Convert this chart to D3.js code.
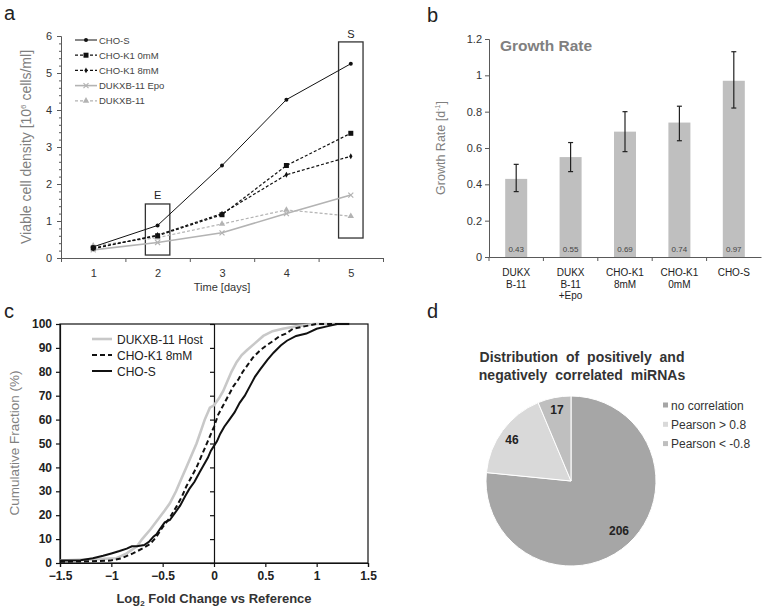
<!DOCTYPE html>
<html><head><meta charset="utf-8">
<script src="https://cdn.jsdelivr.net/npm/d3@7"></script>
<style>body{margin:0;background:#fff}svg{display:block;font-family:"Liberation Sans",Arial,sans-serif}</style>
</head><body><svg id="c" width="762" height="607"></svg>
<script>
// ---------- Panel a data ----------
const days = [1, 2, 3, 4, 5];
const choS = [0.3, 0.88, 2.5, 4.28, 5.25];
const choK1_0 = [0.27, 0.6, 1.17, 2.5, 3.37];
const choK1_8 = [0.25, 0.62, 1.2, 2.25, 2.75];
const dukEpo = [0.22, 0.42, 0.68, 1.2, 1.7];
const duk = [0.33, 0.55, 0.92, 1.3, 1.13];
const aSeriesNames = ["CHO-S", "CHO-K1 0mM", "CHO-K1 8mM", "DUKXB-11 Epo", "DUKXB-11"];
const aYTicks = [0, 1, 2, 3, 4, 5, 6];

// ---------- Panel b data ----------
const bCats = [["DUKX","B-11"], ["DUKX","B-11","+Epo"], ["CHO-K1","8mM"], ["CHO-K1","0mM"], ["CHO-S"]];
const bVals = [0.43, 0.55, 0.69, 0.74, 0.97];
const bLow = [0.36, 0.47, 0.58, 0.64, 0.82];
const bHigh = [0.51, 0.63, 0.80, 0.83, 1.13];
const bYTicks = [0, 0.2, 0.4, 0.6, 0.8, 1, 1.2];

// ---------- Panel c data (x: log2 FC, y: cumulative %) ----------
const cHostX = [-1.5,-1.2,-0.95,-0.85,-0.75,-0.7,-0.62,-0.55,-0.48,-0.43,-0.37,-0.32,-0.27,-0.22,-0.17,-0.13,-0.09,-0.06,-0.04,0,0.05,0.09,0.12,0.17,0.22,0.27,0.32,0.4,0.48,0.57,0.67,0.8,0.97,1.1,1.32];
const cHostY = [1,1.5,2,4,7,10,14,18,22,25,30,35,40,45,50,55,60,63,65,66,69,72,75,80,84,87,89,92,95,97,98,99,100,100,100];
const cK1X = [-1.5,-1.2,-1.01,-0.9,-0.79,-0.7,-0.62,-0.56,-0.5,-0.43,-0.36,-0.31,-0.27,-0.22,-0.17,-0.13,-0.09,-0.06,-0.04,0,0.04,0.09,0.14,0.19,0.24,0.28,0.33,0.38,0.45,0.51,0.58,0.64,0.7,0.77,0.88,1.0,1.2];
const cK1Y = [0.5,0.7,1,2,4,6,8,11,15,19,24,28,32,36,40,44,48,51,53,57,62,66,70,74,77,80,83,86,89,91,93,95,96,98,99,100,100];
const cSX = [-1.5,-1.3,-1.18,-1.08,-1.0,-0.92,-0.85,-0.8,-0.75,-0.68,-0.63,-0.59,-0.56,-0.53,-0.48,-0.43,-0.38,-0.33,-0.28,-0.24,-0.19,-0.14,-0.1,-0.06,-0.03,0,0.03,0.06,0.1,0.15,0.2,0.25,0.3,0.35,0.4,0.45,0.52,0.58,0.65,0.71,0.8,0.9,1.0,1.1,1.2,1.32];
const cSY = [1,1.2,2,3,4,5,6,7,7,7.5,9,11,12,14,17,18,21,24,28,31,34,38,41,44,47,49,51,54,57,60,63,67,70,74,78,81,85,88,91,93,95,96,98,99,100,100];
const cNames = ["DUKXB-11 Host", "CHO-K1 8mM", "CHO-S"];
const cXTicks = [-1.5, -1, -0.5, 0, 0.5, 1, 1.5];
const cYTicks = [0,10,20,30,40,50,60,70,80,90,100];

// ---------- Panel d data ----------
const dLabels = ["no correlation", "Pearson > 0.8", "Pearson < -0.8"];
const dVals = [206, 46, 17];
const dColors = ["#a6a6a6", "#d9d9d9", "#bfbfbf"];

const svg = d3.select("#c");
const AX = "#595959";

// panel letters
[["a",4,20],["b",427,22],["c",4,318],["d",427,318]].forEach(([t,x,y])=>{
  svg.append("text").attr("x",x).attr("y",y).attr("font-size",20).attr("fill","#222").text(t);
});

// =============== Panel a ===============
(function(){
  const g = svg.append("g");
  const x = d3.scaleLinear().domain([0.5,5.5]).range([61,383]);
  const y = d3.scaleLinear().domain([0,6]).range([258,36]);
  const ya = g.append("g").attr("transform","translate(61,0)")
    .call(d3.axisLeft(y).tickValues(aYTicks).tickSize(4).tickFormat(d3.format("d")));
  g.append("g").attr("transform","translate(61,0)")
    .call(d3.axisLeft(y).tickValues(d3.range(0,6.01,0.2)).tickSize(2).tickFormat(""))
    .call(s=>s.select(".domain").remove());
  g.append("g").attr("transform","translate(0,258)")
    .call(d3.axisBottom(x).tickValues([0.5,1.5,2.5,3.5,4.5,5.5]).tickSize(4).tickFormat(""));
  g.append("g").attr("transform","translate(0,258)")
    .call(d3.axisBottom(x).tickValues(days).tickSize(0).tickPadding(11).tickFormat(d3.format("d")))
    .call(s=>s.select(".domain").remove());
  g.selectAll(".domain, .tick line").attr("stroke",AX);
  g.selectAll(".tick text").attr("font-size",11).attr("fill","#333").attr("font-family","Liberation Sans, Arial");
  ya.selectAll(".tick text").attr("dx",-2);
  g.append("text").attr("x",222).attr("y",291).attr("text-anchor","middle").attr("font-size",11).attr("fill","#333").text("Time [days]");
  const yl = g.append("text").attr("transform","translate(31,147) rotate(-90)").attr("text-anchor","middle").attr("font-size",14).attr("fill","#7f7f7f");
  yl.append("tspan").text("Viable cell density [10");
  yl.append("tspan").attr("font-size",8).attr("dy",-5).text("6");
  yl.append("tspan").attr("dy",5).text(" cells/ml]");
  g.append("rect").attr("x",x(1.81)).attr("y",y(1.46)).attr("width",x(2.19)-x(1.81)).attr("height",y(0.08)-y(1.46)).attr("fill","none").attr("stroke","#333").attr("stroke-width",1.3);
  g.append("rect").attr("x",x(4.81)).attr("y",y(5.84)).attr("width",x(5.19)-x(4.81)).attr("height",y(0.54)-y(5.84)).attr("fill","none").attr("stroke","#333").attr("stroke-width",1.3);
  g.append("text").attr("x",x(2)).attr("y",y(1.46)-5).attr("text-anchor","middle").attr("font-size",11).attr("fill","#222").text("E");
  g.append("text").attr("x",x(5)).attr("y",y(5.84)-4).attr("text-anchor","middle").attr("font-size",11).attr("fill","#222").text("S");

  const series = [
    {vals:choS, color:"#111", dash:null, w:1, marker:"circle"},
    {vals:choK1_0, color:"#111", dash:"3,2", w:1.2, marker:"square"},
    {vals:choK1_8, color:"#111", dash:"3,2", w:1.2, marker:"diamond"},
    {vals:dukEpo, color:"#b3b3b3", dash:null, w:1.6, marker:"x"},
    {vals:duk, color:"#b3b3b3", dash:"3,2", w:1.2, marker:"triangle"}
  ];
  const line = d3.line().x((d,i)=>x(days[i])).y(d=>y(d));
  function marker(sel, type, color){
    if(type==="circle") sel.append("circle").attr("r",2).attr("fill",color);
    if(type==="square") sel.append("rect").attr("x",-2.5).attr("y",-2.5).attr("width",5).attr("height",5).attr("fill",color);
    if(type==="diamond") sel.append("path").attr("d",d3.symbol(d3.symbolDiamond,10)()).attr("fill",color);
    if(type==="triangle") sel.append("path").attr("d",d3.symbol(d3.symbolTriangle,18)()).attr("fill",color);
    if(type==="x") sel.append("path").attr("d","M-2.5,-2.5L2.5,2.5M-2.5,2.5L2.5,-2.5").attr("stroke",color).attr("stroke-width",1.2);
  }
  series.slice().reverse().forEach(s=>{
    g.append("path").attr("d",line(s.vals)).attr("fill","none").attr("stroke",s.color).attr("stroke-width",s.w).attr("stroke-dasharray",s.dash);
    s.vals.forEach((v,i)=>{ marker(g.append("g").attr("transform",`translate(${x(days[i])},${y(v)})`), s.marker, s.color); });
  });
  series.forEach((s,i)=>{
    const ly = 40 + i*15.2;
    const lg = g.append("g");
    lg.append("line").attr("x1",75).attr("x2",97).attr("y1",ly).attr("y2",ly).attr("stroke",s.color).attr("stroke-width",s.w).attr("stroke-dasharray",s.dash);
    marker(lg.append("g").attr("transform",`translate(86,${ly})`), s.marker, s.color);
    lg.append("text").attr("x",99).attr("y",ly+3.5).attr("font-size",9.5).attr("fill","#444").text(aSeriesNames[i]);
  });
})();

// =============== Panel b ===============
(function(){
  const g = svg.append("g");
  const x = d3.scaleBand().domain(d3.range(bVals.length)).range([489,761]);
  const y = d3.scaleLinear().domain([0,1.2]).range([257,39]);
  const ya = g.append("g").attr("transform","translate(489,0)")
    .call(d3.axisLeft(y).tickValues(bYTicks).tickSize(4).tickFormat(d=>d===0?"0":d3.format(".1~f")(d)));
  g.append("g").attr("transform","translate(0,257)")
    .call(d3.axisBottom(x).tickSize(0).tickFormat(""));
  x.domain().forEach(i=>{
    g.append("line").attr("x1",x(i)).attr("x2",x(i)).attr("y1",257).attr("y2",261).attr("stroke",AX);
  });
  g.selectAll(".domain, .tick line").attr("stroke",AX);
  ya.selectAll(".tick text").attr("font-size",11).attr("fill","#333");
  const bw = 22;
  g.selectAll("rect.bar").data(bVals).join("rect").attr("class","bar")
    .attr("x",(d,i)=>x(i)+x.bandwidth()/2-bw/2).attr("width",bw)
    .attr("y",d=>y(d)).attr("height",d=>y(0)-y(d)).attr("fill","#bfbfbf");
  bVals.forEach((v,i)=>{
    const cx = x(i)+x.bandwidth()/2;
    g.append("line").attr("x1",cx).attr("x2",cx).attr("y1",y(bLow[i])).attr("y2",y(bHigh[i])).attr("stroke","#222").attr("stroke-width",1.2);
    [bLow[i],bHigh[i]].forEach(e=>g.append("line").attr("x1",cx-2.5).attr("x2",cx+2.5).attr("y1",y(e)).attr("y2",y(e)).attr("stroke","#222").attr("stroke-width",1.2));
    g.append("text").attr("x",cx).attr("y",252).attr("text-anchor","middle").attr("font-size",8).attr("fill","#444").text(d3.format(".2f")(v));
    bCats[i].forEach((t,j)=>{
      g.append("text").attr("x",cx).attr("y",276+j*11.5).attr("text-anchor","middle").attr("font-size",10).attr("fill","#222").text(t);
    });
  });
  g.append("text").attr("x",500).attr("y",51).attr("font-size",15.5).attr("font-weight","bold").attr("fill","#808080").text("Growth Rate");
  const yl = g.append("text").attr("transform","translate(445,148) rotate(-90)").attr("text-anchor","middle").attr("font-size",12.5).attr("fill","#7f7f7f");
  yl.append("tspan").text("Growth Rate [d");
  yl.append("tspan").attr("font-size",7).attr("dy",-5).text("-1");
  yl.append("tspan").attr("dy",5).text("]");
})();

// =============== Panel c ===============
(function(){
  const g = svg.append("g");
  const x = d3.scaleLinear().domain([-1.5,1.5]).range([60,368]);
  const y = d3.scaleLinear().domain([0,100]).range([563,324]);
  g.append("rect").attr("x",60).attr("y",324).attr("width",308).attr("height",239).attr("fill","none").attr("stroke","#111").attr("stroke-width",1.2);
  const ya = g.append("g").attr("transform","translate(60,0)").call(d3.axisLeft(y).tickValues(cYTicks).tickSize(4));
  const xa = g.append("g").attr("transform","translate(0,563)").call(d3.axisBottom(x).tickValues(cXTicks).tickSize(4).tickPadding(4).tickFormat(d=>d3.format("~g")(d)));
  g.append("g").attr("transform",`translate(${x(0)},0)`).call(d3.axisLeft(y).tickValues(cYTicks).tickSize(4).tickFormat(""));
  g.selectAll(".domain, .tick line").attr("stroke","#111").attr("stroke-width",1.2);
  g.selectAll(".tick text").attr("font-size",12).attr("fill","#222").attr("font-weight","bold").attr("font-family","Liberation Sans, Arial");
  ya.selectAll(".tick text").attr("dx",-1).attr("dy","0.3em");
  const line = d3.line().x(d=>x(d[0])).y(d=>y(d[1]));
  const defs = [
    {xs:cHostX, ys:cHostY, color:"#c8c8c8", dash:null, w:2.6},
    {xs:cK1X, ys:cK1Y, color:"#111", dash:"5,3", w:2},
    {xs:cSX, ys:cSY, color:"#111", dash:null, w:2}
  ];
  defs.forEach(s=>{
    g.append("path").attr("d",line(s.xs.map((v,i)=>[v,s.ys[i]]))).attr("fill","none").attr("stroke",s.color).attr("stroke-width",s.w).attr("stroke-dasharray",s.dash);
  });
  defs.forEach((s,i)=>{
    const ly = 339 + i*16;
    g.append("line").attr("x1",92).attr("x2",112).attr("y1",ly).attr("y2",ly).attr("stroke",s.color).attr("stroke-width",s.w).attr("stroke-dasharray",s.dash);
    g.append("text").attr("x",117).attr("y",ly+4.5).attr("font-size",12).attr("fill","#222").text(cNames[i]);
  });
  const xl = g.append("text").attr("x",214).attr("y",603).attr("text-anchor","middle").attr("font-size",13).attr("font-weight","600").attr("fill","#333");
  xl.append("tspan").text("Log");
  xl.append("tspan").attr("font-size",8).attr("dy",3).text("2");
  xl.append("tspan").attr("dy",-3).text(" Fold Change vs Reference");
  g.append("text").attr("transform","translate(19,443) rotate(-90)").attr("text-anchor","middle").attr("font-size",13.5).attr("fill","#7f7f7f").text("Cumulative Fraction (%)");
})();

// =============== Panel d ===============
(function(){
  const g = svg.append("g").attr("transform","translate(571,481)");
  const pie = d3.pie().sort(null).value(d=>d);
  const arc = d3.arc().innerRadius(0).outerRadius(85);
  const arcs = pie(dVals);
  g.selectAll("path").data(arcs).join("path").attr("d",arc).attr("fill",(d,i)=>dColors[i]).attr("stroke","#fff").attr("stroke-width",1);
  const labelPos = [[48,50],[-59,-41],[-14,-71]];
  arcs.forEach((a,i)=>{
    g.append("text").attr("x",labelPos[i][0]).attr("y",labelPos[i][1]+4).attr("text-anchor","middle").attr("font-size",12).attr("font-weight","bold").attr("fill","#222").text(dVals[i]);
  });
  svg.append("text").attr("x",582).attr("y",362).attr("text-anchor","middle").attr("font-size",14).attr("font-weight","bold").attr("fill","#333").attr("word-spacing",4).text("Distribution of positively and");
  svg.append("text").attr("x",582).attr("y",380).attr("text-anchor","middle").attr("font-size",14).attr("font-weight","bold").attr("fill","#333").attr("word-spacing",4).text("negatively correlated miRNAs");
  dLabels.forEach((t,i)=>{
    const ly = 405 + i*19.3;
    svg.append("rect").attr("x",663).attr("y",ly-2.5).attr("width",5).attr("height",5).attr("fill",dColors[i]);
    svg.append("text").attr("x",671).attr("y",ly+4.5).attr("font-size",12).attr("fill","#333").text(t);
  });
})();
</script></body></html>
